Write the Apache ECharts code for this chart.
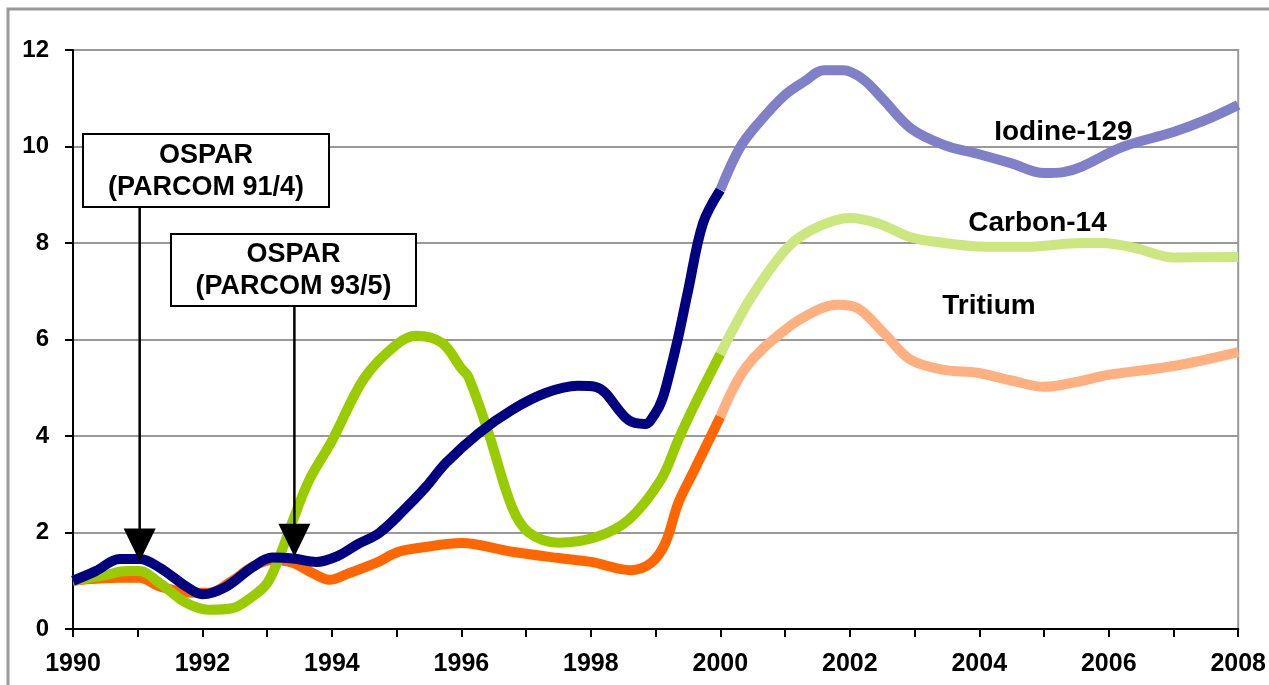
<!DOCTYPE html>
<html lang="en" style="height: 100%">
<head>
<meta charset="utf-8">
<title>Iodine-129, Carbon-14, Tritium 1990-2008</title>
</head>
<body style="height: 100%; margin: 0; background: #fff">
<div id="container" style="width: 1269px; height: 685px"></div>

<script type="text/javascript" src="https://cdn.jsdelivr.net/npm/echarts@6/dist/echarts.min.js"></script>

<script type="text/javascript">

var FONT = '"Liberation Sans", Arial, sans-serif';

// [year, value] pairs
const iodineEarly = [
    [1990, 1.0], [1990.35, 1.2], [1990.72, 1.45], [1991.03, 1.45], [1991.34, 1.27],
    [1991.75, 0.88], [1992.0, 0.72], [1992.37, 0.88], [1992.77, 1.28], [1993.08, 1.48],
    [1993.4, 1.46], [1993.76, 1.39], [1994.1, 1.52], [1994.4, 1.76], [1994.73, 1.99],
    [1995.1, 2.45], [1995.45, 2.94], [1995.76, 3.44], [1996.27, 4.06], [1996.78, 4.54],
    [1997.3, 4.89], [1997.8, 5.04], [1998.07, 5.02], [1998.58, 4.33], [1998.84, 4.25],
    [1999.0, 4.48], [1999.1, 4.75], [1999.2, 5.22], [1999.35, 6.05], [1999.5, 7.0],
    [1999.73, 8.4], [2000, 9.1]
];
const iodineLate = [
    [2000, 9.1], [2000.3, 9.97], [2000.6, 10.5], [2001.0, 11.07], [2001.3, 11.35],
    [2001.6, 11.58], [2001.9, 11.58], [2002.2, 11.4], [2002.5, 11.0], [2002.94, 10.38],
    [2003.46, 10.03], [2003.97, 9.85], [2004.5, 9.65], [2005.0, 9.45], [2005.3, 9.47],
    [2006.23, 10.0], [2007.0, 10.3], [2007.5, 10.55], [2008, 10.86]
];
const carbonEarly = [
    [1990, 1.0], [1990.5, 1.12], [1990.83, 1.2], [1991.03, 1.2], [1991.34, 0.95],
    [1991.75, 0.54], [1992.1, 0.4], [1992.46, 0.43], [1992.77, 0.67], [1993.0, 0.95],
    [1993.19, 1.5], [1993.4, 2.26], [1993.65, 3.09], [1994.0, 3.9], [1994.5, 5.2],
    [1995.0, 5.9], [1995.3, 6.08], [1995.7, 5.93], [1996.0, 5.4], [1996.11, 5.22],
    [1996.42, 4.06], [1996.78, 2.53], [1997.04, 2.0], [1997.5, 1.79], [1998.07, 1.9],
    [1998.58, 2.26], [1999.08, 3.09], [1999.35, 3.92], [1999.6, 4.64], [2000, 5.7]
];
const carbonLate = [
    [2000, 5.7], [2000.48, 6.88], [2001.05, 7.92], [2001.5, 8.33], [2002.0, 8.52],
    [2002.43, 8.41], [2002.94, 8.12], [2003.46, 8.0], [2003.97, 7.93], [2004.7, 7.92],
    [2005.6, 8.0], [2005.9, 8.0], [2006.4, 7.9], [2007.0, 7.7], [2008, 7.71]
];
const tritiumEarly = [
    [1990, 1.0], [1990.73, 1.06], [1991.03, 1.06], [1991.34, 0.88], [1991.85, 0.75],
    [1992.1, 0.75], [1992.46, 1.0], [1992.77, 1.29], [1993.08, 1.43], [1993.4, 1.37],
    [1993.7, 1.16], [1993.96, 1.02], [1994.27, 1.16], [1994.68, 1.37], [1995.03, 1.6],
    [1995.45, 1.7], [1996.0, 1.78], [1996.78, 1.6], [1997.5, 1.47], [1998.0, 1.39],
    [1998.62, 1.22], [1998.93, 1.37], [1999.15, 1.78], [1999.35, 2.61], [1999.6, 3.3],
    [2000, 4.4]
];
const tritiumLate = [
    [2000, 4.4], [2000.4, 5.43], [2001.0, 6.2], [2001.5, 6.61], [2001.81, 6.72],
    [2002.12, 6.65], [2002.53, 6.13], [2002.94, 5.58], [2003.46, 5.37], [2003.97, 5.31],
    [2004.5, 5.15], [2005.0, 5.02], [2005.5, 5.12], [2006.0, 5.27], [2007.0, 5.45],
    [2008, 5.74]
];

// series labels and the points they sit at
const seriesLabels = [
    {text: 'Iodine-129', at: [2005.3, 10.3]},
    {text: 'Carbon-14', at: [2004.9, 8.4]},
    {text: 'Tritium', at: [2004.15, 6.68]}
];
// OSPAR decisions: where each arrow points
const decisions = [
    {lines: ['OSPAR', '(PARCOM 91/4)'], at: [1991.03, 1.4], box: [83, 134, 246, 73]},
    {lines: ['OSPAR', '(PARCOM 93/5)'], at: [1993.42, 1.5], box: [171, 234, 245, 72]}
];

var dom = document.getElementById('container');
var myChart = echarts.init(dom, null, {width: 1269, height: 685});

function line(name, data, color) {
    return {
        name: name,
        type: 'line',
        data: data,
        smooth: 0.35,
        showSymbol: false,
        symbol: 'none',
        lineStyle: {color: color, width: 10, cap: 'butt', join: 'round'},
        z: 3
    };
}

var option = {
    animation: false,
    grid: {
        left: 73, right: 27, top: 50, bottom: 56,
        show: true, borderColor: '#999', borderWidth: 2
    },
    xAxis: {
        type: 'value',
        min: 1990, max: 2008, interval: 2,
        axisLine: {lineStyle: {color: '#000', width: 2}},
        axisTick: {show: true, length: 8, lineStyle: {color: '#000', width: 2}},
        minorTick: {show: true, splitNumber: 2, length: 8, lineStyle: {color: '#000', width: 2}},
        splitLine: {show: false},
        axisLabel: {
            margin: 23, color: '#000', fontFamily: FONT, fontWeight: 'bold', fontSize: 25,
            formatter: function (v) { return String(v); }
        }
    },
    yAxis: {
        type: 'value',
        min: 0, max: 12, interval: 2,
        axisLine: {show: true, lineStyle: {color: '#000', width: 2}},
        axisTick: {show: true, length: 8, lineStyle: {color: '#000', width: 2}},
        splitLine: {show: true, lineStyle: {color: '#999', width: 2}},
        axisLabel: {margin: 24, color: '#000', fontFamily: FONT, fontWeight: 'bold', fontSize: 24}
    },
    series: [
        line('Tritium', tritiumEarly, '#FF6600'),
        line('Tritium (after 2000)', tritiumLate, '#FFB080'),
        line('Carbon-14', carbonEarly, '#99CC00'),
        line('Carbon-14 (after 2000)', carbonLate, '#CCE680'),
        line('Iodine-129', iodineEarly, '#000080'),
        line('Iodine-129 (after 2000)', iodineLate, '#8080C8')
    ]
};

myChart.setOption(option);

var elements = [{
    type: 'rect',
    shape: {x: 8, y: 9, width: 1320, height: 720},
    style: {fill: 'none', stroke: '#999', lineWidth: 3},
    silent: true, z: 1
}];

seriesLabels.forEach(function (l) {
    var p = myChart.convertToPixel('grid', l.at);
    elements.push({
        type: 'text', x: p[0], y: p[1], z: 10,
        style: {
            text: l.text, fill: '#000', font: 'bold 28px ' + FONT,
            align: 'center', verticalAlign: 'middle'
        }
    });
});

decisions.forEach(function (d) {
    var tip = myChart.convertToPixel('grid', d.at);
    var b = d.box;
    var headH = 33, headW = 16;
    elements.push({
        type: 'line', z: 10,
        shape: {x1: tip[0], y1: b[1] + b[3], x2: tip[0], y2: tip[1] - headH + 2},
        style: {stroke: '#000', lineWidth: 2.5}
    });
    elements.push({
        type: 'polygon', z: 10,
        shape: {points: [[tip[0] - headW, tip[1] - headH], [tip[0] + headW, tip[1] - headH], [tip[0], tip[1]]]},
        style: {fill: '#000'}
    });
    elements.push({
        type: 'rect', z: 10,
        shape: {x: b[0], y: b[1], width: b[2], height: b[3]},
        style: {fill: '#fff', stroke: '#000', lineWidth: 2}
    });
    elements.push({
        type: 'text', z: 11,
        x: b[0] + b[2] / 2, y: b[1] + b[3] / 2 + 1,
        style: {
            text: d.lines.join('\n'), fill: '#000', font: 'bold 27px ' + FONT,
            lineHeight: 32, align: 'center', verticalAlign: 'middle'
        }
    });
});

myChart.setOption({graphic: {elements: elements}});

window.addEventListener('resize', myChart.resize);
</script>
</body>
</html>
